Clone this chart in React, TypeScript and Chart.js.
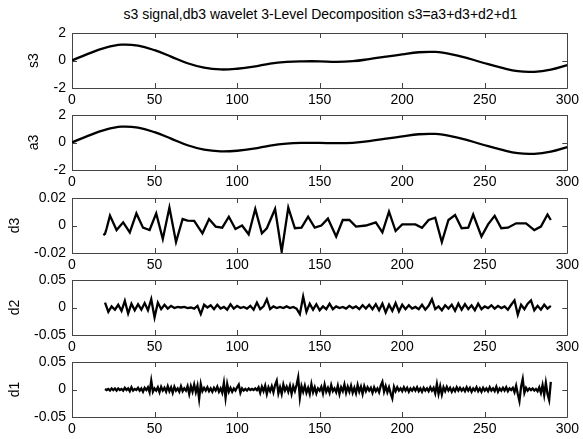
import React, { useEffect, useRef } from "react";
import { Chart, registerables } from "chart.js";

Chart.register(...registerables);

const titleText = "s3 signal,db3 wavelet 3-Level Decomposition s3=a3+d3+d2+d1";

const xTicks = [0, 50, 100, 150, 200, 250, 300];
const xTickLabels = ["0", "50", "100", "150", "200", "250", "300"];

const panelNames = ["s3", "a3", "d3", "d2", "d1"];

const yTicksBig = [-2, 0, 2];
const yTickLabelsBig = ["-2", "0", "2"];
const yTicksD3 = [-0.02, 0, 0.02];
const yTickLabelsD3 = ["-0.02", "0", "0.02"];
const yTicksD21 = [-0.05, 0, 0.05];
const yTickLabelsD21 = ["-0.05", "0", "0.05"];

// smooth signals, sampled every 10
const smoothX = [0, 10, 20, 30, 40, 50, 60, 70, 80, 90, 100, 110, 120, 130, 140, 150, 160, 170, 180, 190, 200, 210, 220, 230, 240, 250, 260, 270, 280, 290, 300];
const s3Values = [0.0, 0.5, 0.92, 1.15, 1.08, 0.75, 0.28, -0.2, -0.52, -0.65, -0.6, -0.45, -0.22, -0.1, -0.06, -0.06, -0.1, -0.05, 0.1, 0.28, 0.45, 0.6, 0.62, 0.45, 0.15, -0.2, -0.52, -0.78, -0.82, -0.66, -0.33];
const a3Values = [0.0, 0.5, 0.92, 1.15, 1.08, 0.75, 0.28, -0.2, -0.52, -0.64, -0.6, -0.45, -0.22, -0.08, -0.03, -0.03, -0.05, -0.02, 0.1, 0.28, 0.45, 0.6, 0.62, 0.45, 0.15, -0.2, -0.52, -0.78, -0.82, -0.66, -0.33];

// level-3 detail
const d3X = [19, 20, 21, 23, 27, 31, 35, 39, 43, 47, 51, 55, 59, 63, 67, 70, 74, 79, 83, 87, 91, 95, 99, 103, 107, 111, 115, 118, 123, 127, 131, 135, 139, 143, 147, 151, 155, 160, 164, 168, 172, 178, 184, 188, 192, 196, 200, 208, 212, 216, 220, 224, 228, 232, 236, 240, 243, 248, 252, 256, 260, 264, 269, 275, 280, 284, 288, 290];
const d3Values = [-0.007, -0.006, -0.002, 0.0072, -0.0033, 0.0023, -0.005, 0.0088, -0.0016, -0.0033, 0.0088, -0.0098, 0.013, -0.012, 0.0047, 0.0035, 0.0033, -0.0057, 0.0047, -0.0008, -0.0016, 0.0064, -0.0025, 0, -0.0064, 0.012, -0.0057, -0.002, 0.012, -0.019, 0.013, -0.002, -0.0016, 0.0064, -0.0016, 0, 0.005, -0.008, 0.004, 0.004, -0.0008, 0, 0.0023, -0.005, 0.01, -0.004, 0.0008, 0.0008, -0.0016, 0.004, 0.0057, -0.012, 0.004, 0.0076, -0.002, -0.0016, 0.008, -0.008, 0.0008, 0.007, -0.002, -0.0016, 0.0016, 0.0016, -0.0033, -0.0008, 0.008, 0.004];

// level-2 detail, samples 20,22,...,290
const d2Start = 20;
const d2Step = 2;
const d2Values = [
  0.009, -0.008, 0.002, -0.004, 0.005, -0.006, 0.012, -0.011, 0.007, -0.005,
  0.006, -0.004, 0.008, -0.005, 0.015, -0.018, 0.009, -0.003, 0.005, -0.002,
  0.003, -0.001, 0.001, 0.0, 0.001, -0.001, 0.0, -0.002, 0.003, -0.012,
  0.005, 0.0, 0.004, -0.003, 0.005, -0.002, 0.001, -0.004, 0.006, -0.002,
  0.003, -0.001, 0.001, -0.002, 0.003, -0.004, 0.009, -0.003, 0.002, 0.015,
  -0.003, 0.002, -0.001, 0.001, -0.001, 0.002, -0.001, 0.001, -0.002, -0.012,
  0.02, -0.008, 0.007, -0.004, 0.006, -0.005, 0.002, -0.003, 0.007, -0.003,
  0.002, -0.001, 0.001, -0.002, 0.003, -0.001, 0.002, -0.003, 0.004, -0.002,
  0.005, -0.003, 0.006, -0.005, 0.007, -0.009, 0.005, -0.006, 0.008, -0.007,
  0.005, -0.003, 0.004, -0.002, 0.001, -0.003, 0.005, -0.004, 0.003, 0.015,
  -0.003, 0.002, -0.005, 0.004, -0.002, 0.005, -0.006, 0.007, -0.004, 0.006,
  -0.003, 0.004, -0.005, 0.007, -0.003, 0.002, -0.001, 0.004, -0.002, 0.003,
  -0.001, 0.002, -0.004, 0.005, 0.013, -0.013, 0.005, -0.003, 0.007, 0.013,
  -0.005, 0.003, -0.004, 0.005, -0.002, 0.003,
];

// level-1 detail, samples 20,21,...,290
const d1Start = 20;
const d1Step = 1;
const d1Values = [
  0.001, -0.001, 0.001, -0.002, 0.002, -0.001, 0.002, -0.002, 0.002, -0.001,
  0.001, -0.002, 0.003, -0.001, 0.002, -0.003, 0.004, -0.002, 0.001, -0.001,
  0.003, -0.002, 0.002, -0.004, 0.003, -0.001, 0.004, -0.005, 0.016, -0.004,
  0.002, -0.002, 0.004, -0.005, 0.005, -0.002, 0.003, -0.004, 0.006, -0.003,
  0.004, -0.006, 0.005, -0.002, 0.002, -0.004, 0.006, -0.003, 0.002, -0.002,
  0.006, -0.008, 0.006, -0.004, 0.009, -0.005, 0.007, -0.017, 0.01, -0.003,
  0.003, -0.002, 0.004, -0.003, 0.002, -0.004, 0.003, -0.002, 0.005, -0.004,
  0.002, -0.006, 0.012, -0.015, 0.01, -0.004, 0.003, -0.004, 0.002, -0.002,
  0.004, 0.009, -0.006, 0.002, -0.002, 0.001, -0.002, 0.002, -0.001, 0.001,
  -0.001, 0.002, -0.001, 0.004, -0.006, 0.005, -0.003, 0.007, -0.008, 0.004,
  -0.003, 0.006, -0.005, 0.008, 0.016, -0.007, 0.004, -0.008, 0.009, -0.002,
  0.005, -0.004, 0.007, -0.008, 0.006, -0.003, 0.008, 0.022, -0.015, 0.006,
  -0.004, 0.007, -0.006, 0.003, -0.008, 0.01, -0.005, 0.004, -0.007, 0.002,
  -0.002, 0.005, -0.007, 0.009, -0.004, 0.003, -0.006, 0.008, -0.003, 0.002,
  -0.005, 0.007, -0.008, 0.004, -0.003, 0.009, -0.006, 0.005, -0.004, 0.007,
  -0.006, 0.003, -0.007, 0.008, -0.004, 0.005, -0.008, 0.006, -0.003, 0.004,
  -0.002, 0.003, -0.006, 0.004, -0.003, 0.002, -0.005, 0.007, 0.014, -0.004,
  0.006, -0.005, 0.004, -0.007, -0.016, 0.005, -0.003, 0.004, -0.002, 0.002,
  -0.003, 0.004, -0.002, 0.003, -0.004, 0.002, -0.002, 0.003, -0.002, 0.004,
  -0.003, 0.002, -0.004, 0.003, -0.002, 0.002, -0.003, 0.004, -0.002, 0.003,
  -0.007, 0.01, -0.008, 0.006, -0.009, 0.004, -0.003, 0.005, -0.002, 0.003,
  -0.004, 0.002, -0.003, 0.004, -0.002, 0.003, -0.002, 0.002, -0.003, 0.004,
  -0.002, 0.003, -0.004, 0.002, -0.002, 0.004, -0.003, 0.002, -0.004, 0.003,
  -0.002, 0.002, -0.003, 0.004, -0.002, 0.002, -0.003, 0.005, -0.004, 0.002,
  -0.002, 0.003, -0.002, 0.004, -0.003, 0.002, -0.001, 0.003, -0.005, 0.007,
  -0.008, -0.021, 0.005, 0.019, -0.006, 0.003, -0.002, 0.002, -0.001, 0.002,
  -0.002, 0.001, -0.003, 0.004, -0.006, 0.008, -0.01, 0.012, -0.008, -0.019,
  0.014,
];

const FONT = "Arial, 'Liberation Sans', Helvetica, sans-serif";
const W = 583;
const H = 439;
const PLOT_LEFT = 72;
const PLOT_RIGHT = 569;
const PLOT_TOPS = [33, 115, 198, 280, 362];
const PLOT_H = 55;

type Pt = { x: number; y: number };

function pairs(xs: number[], ys: number[]): Pt[] {
  return ys.map((y, i) => ({ x: xs[i], y }));
}
function sampled(start: number, step: number, ys: number[]): Pt[] {
  return ys.map((y, i) => ({ x: start + step * i, y }));
}

const panels = [
  { name: panelNames[0], data: pairs(smoothX, s3Values), ticks: yTicksBig, labels: yTickLabelsBig, smooth: true },
  { name: panelNames[1], data: pairs(smoothX, a3Values), ticks: yTicksBig, labels: yTickLabelsBig, smooth: true },
  { name: panelNames[2], data: pairs(d3X, d3Values), ticks: yTicksD3, labels: yTickLabelsD3, smooth: false },
  { name: panelNames[3], data: sampled(d2Start, d2Step, d2Values), ticks: yTicksD21, labels: yTickLabelsD21, smooth: false },
  { name: panelNames[4], data: sampled(d1Start, d1Step, d1Values), ticks: yTicksD21, labels: yTickLabelsD21, smooth: false },
];

const boxPlugin = {
  id: "matlabBox",
  beforeDatasetsDraw(chart: any) {
    const { ctx, chartArea } = chart;
    const { left, right, top, bottom } = chartArea;
    const xs = chart.scales.x;
    const ys = chart.scales.y;
    const tl = 5;
    ctx.save();
    ctx.strokeStyle = "#444";
    ctx.lineWidth = 1;
    ctx.beginPath();
    ctx.rect(Math.round(left) + 0.5, Math.round(top) + 0.5, Math.round(right - left), Math.round(bottom - top));
    for (const t of xs.ticks) {
      const px = Math.round(xs.getPixelForValue(t.value)) + 0.5;
      ctx.moveTo(px, bottom);
      ctx.lineTo(px, bottom - tl);
      ctx.moveTo(px, top);
      ctx.lineTo(px, top + tl);
    }
    for (const t of ys.ticks) {
      const py = Math.round(ys.getPixelForValue(t.value)) + 0.5;
      ctx.moveTo(left, py);
      ctx.lineTo(left + tl, py);
      ctx.moveTo(right, py);
      ctx.lineTo(right - tl, py);
    }
    ctx.stroke();
    ctx.restore();
  },
};

function Panel({ idx }: { idx: number }) {
  const ref = useRef<HTMLCanvasElement | null>(null);
  useEffect(() => {
    const p = panels[idx];
    const target = { left: PLOT_LEFT, right: PLOT_RIGHT, top: PLOT_TOPS[idx], bottom: PLOT_TOPS[idx] + PLOT_H };
    const pad = { left: 20, right: W - PLOT_RIGHT, top: target.top, bottom: H - target.bottom - 24 };
    const chart = new Chart(ref.current as HTMLCanvasElement, {
      type: "line",
      data: {
        datasets: [
          {
            data: p.data as any,
            borderColor: "#000",
            borderWidth: 2.3,
            pointRadius: 0,
            tension: p.smooth ? 0.4 : 0,
            fill: false,
          },
        ],
      },
      options: {
        animation: false,
        responsive: false,
        events: [],
        layout: { padding: { ...pad } },
        plugins: { legend: { display: false }, tooltip: { enabled: false }, title: { display: false } },
        scales: {
          x: {
            type: "linear",
            min: xTicks[0],
            max: xTicks[xTicks.length - 1],
            grid: { display: false, drawTicks: false },
            border: { display: false },
            afterBuildTicks: (s: any) => {
              s.ticks = xTicks.map((v) => ({ value: v }));
            },
            ticks: {
              autoSkip: false,
              maxRotation: 0,
              padding: 4,
              color: "#000",
              font: { family: FONT, size: 14 },
              callback: (_v: any, i: number) => xTickLabels[i],
            },
          },
          y: {
            type: "linear",
            min: p.ticks[0],
            max: p.ticks[p.ticks.length - 1],
            grid: { display: false, drawTicks: false },
            border: { display: false },
            afterBuildTicks: (s: any) => {
              s.ticks = p.ticks.map((v) => ({ value: v }));
            },
            ticks: {
              autoSkip: false,
              padding: 6,
              color: "#000",
              font: { family: FONT, size: 14 },
              callback: (_v: any, i: number) => p.labels[i],
            },
            title: {
              display: true,
              text: p.name,
              color: "#000",
              font: { family: FONT, size: 14 },
              padding: { top: 0, bottom: 5 },
            },
          },
        },
      },
      plugins: [boxPlugin],
    });
    for (let k = 0; k < 3; k++) {
      const a = chart.chartArea;
      pad.left += target.left - a.left;
      pad.right += a.right - target.right;
      pad.top += target.top - a.top;
      pad.bottom += a.bottom - target.bottom;
      (chart.options as any).layout.padding = { ...pad };
      chart.update();
    }
    return () => chart.destroy();
  }, [idx]);
  return (
    <canvas
      ref={ref}
      width={W}
      height={H}
      style={{ position: "absolute", left: 0, top: 0, width: W, height: H }}
    />
  );
}

export default function App() {
  return (
    <div
      style={{
        position: "fixed",
        left: 0,
        top: 0,
        width: W,
        height: H,
        background: "#fff",
        overflow: "hidden",
      }}
    >
      <div
        style={{
          position: "absolute",
          left: PLOT_LEFT - 40,
          width: PLOT_RIGHT - PLOT_LEFT + 80,
          top: 6,
          textAlign: "center",
          fontFamily: FONT,
          fontSize: 14,
          lineHeight: "16px",
          color: "#000",
          whiteSpace: "nowrap",
        }}
      >
        {titleText}
      </div>
      {panels.map((_, i) => (
        <Panel key={i} idx={i} />
      ))}
    </div>
  );
}
